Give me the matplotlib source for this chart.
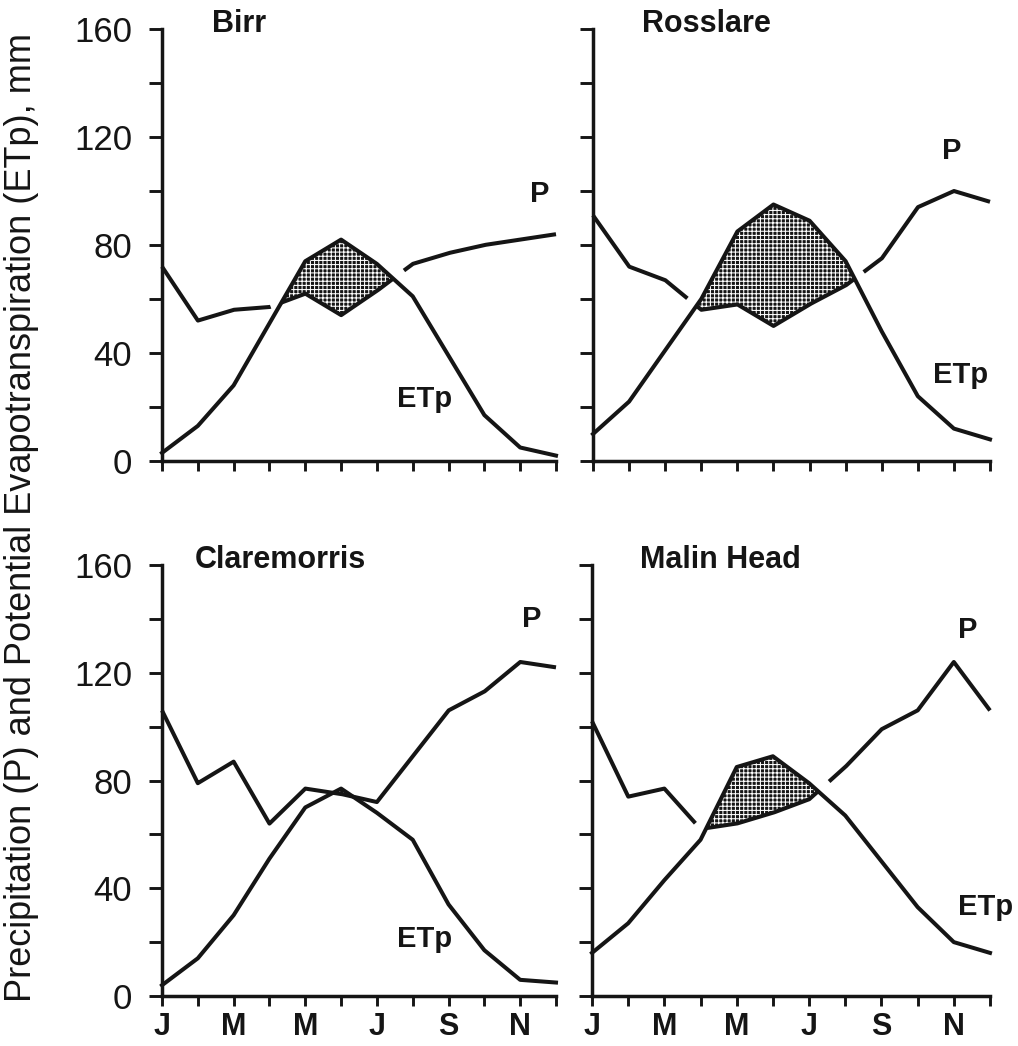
import numpy as np
import matplotlib
matplotlib.use("Agg")
import matplotlib.pyplot as plt

# ---------------- data ----------------
months = np.arange(12)
month_labels = ['J', '', 'M', '', 'M', '', 'J', '', 'S', '', 'N', '']
yticks = [0, 20, 40, 60, 80, 100, 120, 140, 160]
ytick_labels = ['0', '', '40', '', '80', '', '120', '', '160']

stations = ['Birr', 'Rosslare', 'Claremorris', 'Malin Head']

birr_p = [72, 52, 56, 57, 62, 54, 63, 73, 77, 80, 82, 84]
birr_etp = [3, 13, 28, 51, 74, 82, 73, 61, 39, 17, 5, 2]

rosslare_p = [91, 72, 67, 56, 58, 50, 58, 65, 75, 94, 100, 96]
rosslare_etp = [10, 22, 41, 60, 85, 95, 89, 74, 48, 24, 12, 8]

claremorris_p = [106, 79, 87, 64, 77, 75, 72, 89, 106, 113, 124, 122]
claremorris_etp = [4, 14, 30, 51, 70, 77, 68, 58, 34, 17, 6, 5]

malin_p = [102, 74, 77, 62, 64, 68, 73, 85, 99, 106, 124, 106]
malin_etp = [16, 27, 43, 58, 85, 89, 79, 67, 50, 33, 20, 16]

p_series = [birr_p, rosslare_p, claremorris_p, malin_p]
etp_series = [birr_etp, rosslare_etp, claremorris_etp, malin_etp]

# ---------------- style / layout ----------------
plt.rcParams['font.family'] = ['Liberation Sans', 'DejaVu Sans']
plt.rcParams['hatch.linewidth'] = 0.75
plt.rcParams['hatch.color'] = 'white'
INK = '#151515'

W, H = 1018, 1046
fig = plt.figure(figsize=(W / 100, H / 100), dpi=100)

# axes boxes in pixels: (left, top, right, bottom)
boxes = [(162, 29, 556, 461), (593, 29, 990, 461),
         (162, 565, 556, 996), (592, 565, 990, 996)]
gaps = [0.3, 0.25, 0.0, 0.3]
# label placement (month, value)
title_pos = [(1.39, 162), (1.35, 162), (0.92, 162), (1.33, 162)]
p_pos = [(10.28, 99), (9.66, 115), (10.05, 140), (10.12, 136)]
etp_pos = [(6.55, 23), (9.42, 32), (6.55, 21), (10.12, 33)]


def prepare(x, p, e, gap):
    xf = np.linspace(0, 11, 4401)
    pf = np.interp(xf, x, p)
    ef = np.interp(xf, x, e)
    d = ef - pf
    pv = pf.copy()
    if gap > 0:
        idx = np.where(np.sign(d[:-1]) != np.sign(d[1:]))[0]
        for i in idx:
            c = xf[i] - d[i] * (xf[i + 1] - xf[i]) / (d[i + 1] - d[i])
            mask = (np.abs(xf - c) < gap) & (d <= 0)
            pv[mask] = np.nan
    return xf, pf, ef, pv


for k in range(4):
    l, t, r, b = boxes[k]
    ax = fig.add_axes([l / W, 1 - b / H, (r - l) / W, (b - t) / H])
    xf, pf, ef, pv = prepare(months, p_series[k], etp_series[k], gaps[k])

    ax.fill_between(xf, pf, ef, where=ef > pf, interpolate=True,
                    facecolor=INK, edgecolor='white', hatch='++++',
                    linewidth=0, zorder=1)
    ax.plot(xf, pv, color=INK, lw=2.9, zorder=3, clip_on=False,
            solid_capstyle='butt')
    ax.plot(months, etp_series[k], color=INK, lw=2.9, zorder=3,
            clip_on=False)

    ax.set_xlim(0, 11)
    ax.set_ylim(0, 160)
    ax.set_xticks(months)
    ax.set_yticks(yticks)
    for s in ['top', 'right']:
        ax.spines[s].set_visible(False)
    for s in ['left', 'bottom']:
        ax.spines[s].set_linewidth(2.5)
        ax.spines[s].set_color(INK)
        ax.spines[s].set_capstyle('projecting')
    ax.tick_params(axis='y', direction='out', length=9.5, width=2.1,
                   color=INK, pad=12, labelsize=25, labelcolor=INK)
    ax.tick_params(axis='x', direction='out', length=7.5, width=2.1,
                   color=INK, pad=4, labelsize=22, labelcolor=INK)

    if k in (0, 2):
        ax.set_yticklabels(ytick_labels)
    else:
        ax.tick_params(axis='y', labelleft=False)
    if k in (2, 3):
        ax.set_xticklabels(month_labels, fontweight='bold')
    else:
        ax.tick_params(axis='x', labelbottom=False)

    tx, ty = title_pos[k]
    ax.text(tx, ty, stations[k], fontsize=22, fontweight='bold', color=INK,
            ha='left', va='center', clip_on=False)
    px, py = p_pos[k]
    ax.text(px, py, 'P', fontsize=21, fontweight='bold', color=INK,
            ha='left', va='center', clip_on=False)
    ex, ey = etp_pos[k]
    ax.text(ex, ey, 'ETp', fontsize=21, fontweight='bold', color=INK,
            ha='left', va='center', clip_on=False)
    ax.set_facecolor('none')

fig.text(0.021, 0.505, 'Precipitation (P) and Potential Evapotranspiration (ETp), mm',
         rotation=90, ha='center', va='center', fontsize=26, color=INK)

fig.savefig('out.png', dpi=100, facecolor='white')
